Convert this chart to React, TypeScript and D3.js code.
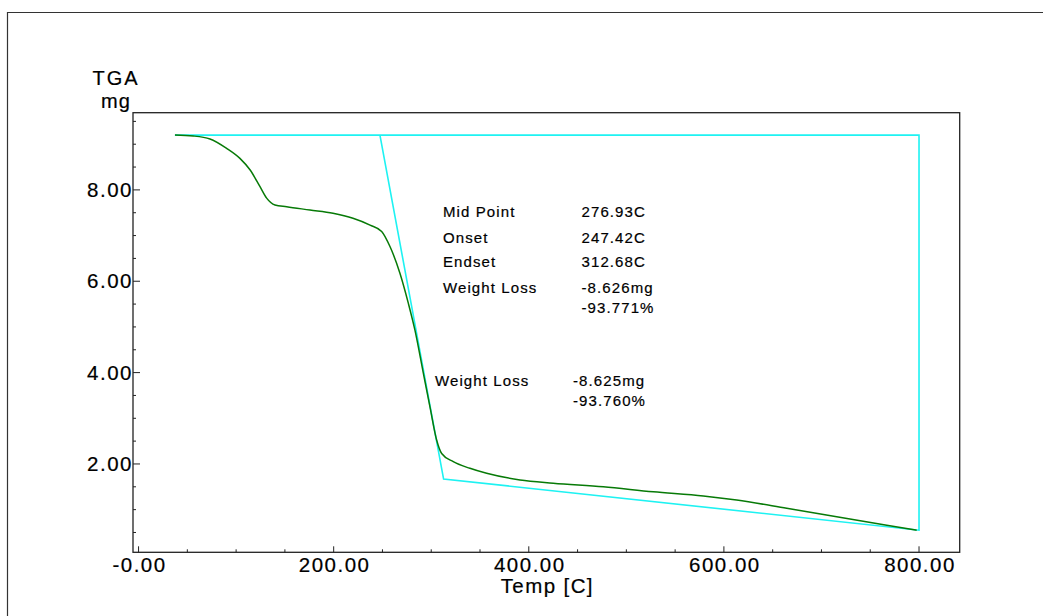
import React, { useEffect, useRef } from "react";
import * as d3 from "d3";

// TGA curve (temperature C, mass mg)
const tempC = [
  37.3, 56.1, 73.2, 90.3, 103.9, 114.2, 124.5, 131.3, 139.8, 151.8, 175.7,
  199.3, 219.8, 237.3, 249.2, 257.7, 268.0, 276.5, 283.3, 291.9, 298.7, 305.6,
  310.7, 322.6, 339.7, 356.8, 391.0, 425.1, 476.4, 527.6, 578.9, 613.1, 664.4,
  715.6, 766.9, 797.6,
];
const massMg = [
  9.2, 9.18, 9.116, 8.91, 8.69, 8.44, 8.07, 7.82, 7.67, 7.63, 7.56, 7.49, 7.38,
  7.23, 7.09, 6.76, 6.17, 5.52, 4.93, 3.99, 3.25, 2.52, 2.23, 2.05, 1.905,
  1.795, 1.65, 1.58, 1.5, 1.39, 1.3, 1.21, 1.03, 0.845, 0.66, 0.55,
];

// cyan analysis outline
const guideTemp = [37.3, 800, 800, 312.68, 247.42];
const guideMass = [9.2, 9.2, 0.55, 1.67, 9.2];

const xMajor = [0, 200, 400, 600, 800];
const xMajorLabels = ["-0.00", "200.00", "400.00", "600.00", "800.00"];
const yMajor = [2, 4, 6, 8];
const yMajorLabels = ["2.00", "4.00", "6.00", "8.00"];

const stepNames = ["Mid Point", "Onset", "Endset", "Weight Loss"];
const stepValues = ["276.93C", "247.42C", "312.68C", "-8.626mg"];
const stepPercent = "-93.771%";
const totalName = "Weight Loss";
const totalValues = ["-8.625mg", "-93.760%"];

const FONT = "'Liberation Sans', Arial, sans-serif";

function App() {
  const ref = useRef<SVGSVGElement>(null);

  function drawChart() {
    const svg = d3.select(ref.current);
    svg.selectAll("*").remove();

    const left = 133,
      right = 959.7,
      top = 112.7,
      bottom = 552.3;

    const x = d3.scaleLinear().domain([-5.7, 841.7]).range([left, right]);
    const y = d3.scaleLinear().domain([0.066, 9.69]).range([bottom, top]);

    // outer frame (left and top edges only)
    svg
      .append("path")
      .attr("d", "M7.5,616 L7.5,12.5 L1043,12.5")
      .attr("fill", "none")
      .attr("stroke", "#333")
      .attr("stroke-width", 1.2);

    // minor ticks
    const xMinor = d3.range(0, 801, 50);
    const yMinor = d3.range(0.5, 9.6, 0.5);

    svg
      .append("g")
      .selectAll("line")
      .data(xMinor)
      .enter()
      .append("line")
      .attr("x1", (d) => x(d))
      .attr("x2", (d) => x(d))
      .attr("y1", bottom)
      .attr("y2", (d) => (xMajor.includes(d) ? bottom - 6 : bottom - 3))
      .attr("stroke", "#222")
      .attr("stroke-width", 1);

    svg
      .append("g")
      .selectAll("line")
      .data(yMinor)
      .enter()
      .append("line")
      .attr("y1", (d) => y(d))
      .attr("y2", (d) => y(d))
      .attr("x1", left)
      .attr("x2", (d) => (yMajor.includes(d) ? left + 7 : left + 3))
      .attr("stroke", "#222")
      .attr("stroke-width", 1);

    // guide outline
    const guide = guideTemp.map((t, i) => [t, guideMass[i]] as [number, number]);
    svg
      .append("path")
      .datum(guide)
      .attr(
        "d",
        d3
          .line<[number, number]>()
          .x((d) => x(d[0]))
          .y((d) => y(d[1]))
      )
      .attr("fill", "none")
      .attr("stroke", "#1ef2f2")
      .attr("stroke-width", 1.6);

    // TGA curve
    const curve = tempC.map((t, i) => [t, massMg[i]] as [number, number]);
    svg
      .append("path")
      .datum(curve)
      .attr(
        "d",
        d3
          .line<[number, number]>()
          .x((d) => x(d[0]))
          .y((d) => y(d[1]))
          .curve(d3.curveMonotoneX)
      )
      .attr("fill", "none")
      .attr("stroke", "#077a07")
      .attr("stroke-width", 1.5);

    // plot frame
    svg
      .append("rect")
      .attr("x", left)
      .attr("y", top)
      .attr("width", right - left)
      .attr("height", bottom - top)
      .attr("fill", "none")
      .attr("stroke", "#222")
      .attr("stroke-width", 1.3);

    const text = svg
      .append("g")
      .attr("font-family", FONT)
      .attr("fill", "#000")
      .attr("stroke", "#000")
      .attr("stroke-width", 0.2);

    // x labels
    text
      .selectAll(".xl")
      .data(xMajor)
      .enter()
      .append("text")
      .attr("class", "xl")
      .attr("x", (d) => x(d) + 1)
      .attr("y", 571.5)
      .attr("text-anchor", "middle")
      .attr("font-size", 20.5)
      .attr("letter-spacing", 1.5)
      .text((d, i) => xMajorLabels[i]);

    // y labels
    text
      .selectAll(".yl")
      .data(yMajor)
      .enter()
      .append("text")
      .attr("class", "yl")
      .attr("x", left)
      .attr("y", (d) => y(d) + 7)
      .attr("text-anchor", "end")
      .attr("font-size", 20.5)
      .attr("letter-spacing", 1.5)
      .text((d, i) => yMajorLabels[i]);

    text
      .append("text")
      .attr("x", (left + right) / 2 + 1)
      .attr("y", 593)
      .attr("text-anchor", "middle")
      .attr("font-size", 20.5)
      .attr("letter-spacing", 1.4)
      .text("Temp  [C]");

    text
      .append("text")
      .attr("x", 116)
      .attr("y", 85)
      .attr("text-anchor", "middle")
      .attr("font-size", 20)
      .attr("letter-spacing", 2)
      .text("TGA");

    text
      .append("text")
      .attr("x", 116)
      .attr("y", 108)
      .attr("text-anchor", "middle")
      .attr("font-size", 20)
      .attr("letter-spacing", 1)
      .text("mg");

    // step analysis block
    const rowY = [217, 242.5, 267, 292.5];
    stepNames.forEach((name, i) => {
      text
        .append("text")
        .attr("x", 443)
        .attr("y", rowY[i])
        .attr("font-size", 15)
        .attr("letter-spacing", 1.1)
        .text(name);
      text
        .append("text")
        .attr("x", 581.5)
        .attr("y", rowY[i])
        .attr("font-size", 15)
        .attr("letter-spacing", 1.1)
        .text(stepValues[i]);
    });
    text
      .append("text")
      .attr("x", 581.5)
      .attr("y", 313)
      .attr("font-size", 15)
      .attr("letter-spacing", 1.1)
      .text(stepPercent);

    // total weight loss block
    text
      .append("text")
      .attr("x", 435)
      .attr("y", 385.5)
      .attr("font-size", 15)
      .attr("letter-spacing", 1.1)
      .text(totalName);
    totalValues.forEach((v, i) => {
      text
        .append("text")
        .attr("x", 573)
        .attr("y", 385.5 + i * 20.3)
        .attr("font-size", 15)
        .attr("letter-spacing", 1.1)
        .text(v);
    });
  }

  useEffect(() => {
    drawChart();
  }, []);

  return (
    <svg
      ref={ref}
      width={1043}
      height={616}
      style={{ position: "absolute", left: 0, top: 0, background: "#fff" }}
    ></svg>
  );
}

export default App;
